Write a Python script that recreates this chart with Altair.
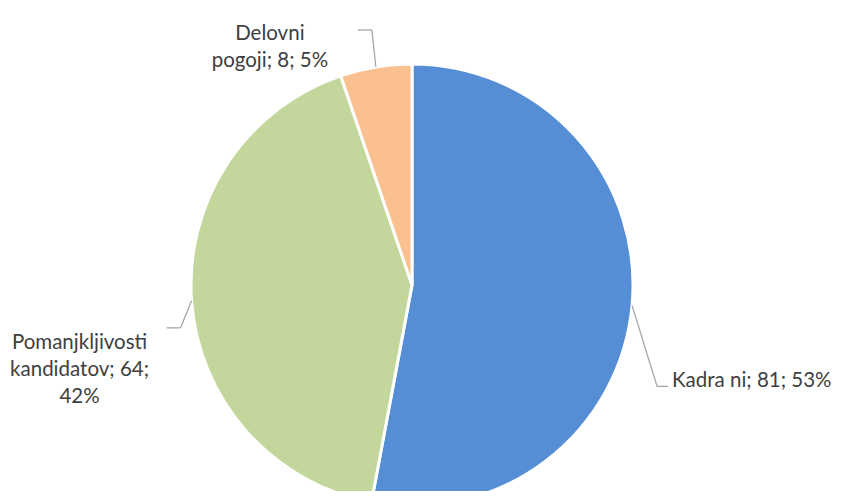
import math
import altair as alt
import pandas as pd

# ---- data ----
categories = ["Kadra ni", "Pomanjkljivosti kandidatov", "Delovni pogoji"]
values = [81, 64, 8]
colors = ["#558ED5", "#C3D69B", "#FAC090"]
label_lines = [
    ["Kadra ni; 81; 53%"],
    ["Pomanjkljivosti", "kandidatov; 64;", "42%"],
    ["Delovni", "pogoji; 8; 5%"],
]

# ---- layout / style (not data) ----
CX, CY, R = 404, 277, 221
elbow_off = [(25, 81), (-11, 27), (-4, -37)]
end_off = [(36, 81), (-25, 27), (-18, -37)]
text_off = [(4, -5), (-87, 15), (-88, 4)]
text_align = ["left", "center", "center"]
FONT = "Lato"
FS = 20.5

total = sum(values)
df = pd.DataFrame({
    "cat": categories,
    "val": values,
    "ord": list(range(len(categories))),
})

# leader lines and label anchors computed from the data angles
segs, texts = [], []
cum = 0
for i, v in enumerate(values):
    mid = (cum + v / 2) / total * 2 * math.pi
    cum += v
    ax = CX + R * math.sin(mid)
    ay = CY - R * math.cos(mid)
    ex, ey = ax + elbow_off[i][0], ay + elbow_off[i][1]
    fx, fy = ax + end_off[i][0], ay + end_off[i][1]
    segs.append({"x": ax, "y": ay, "x2": ex, "y2": ey})
    segs.append({"x": ex, "y": ey, "x2": fx, "y2": fy})
    texts.append({"x": fx + text_off[i][0], "y": fy + text_off[i][1],
                  "t": "\n".join(label_lines[i]), "align": text_align[i]})
seg_df = pd.DataFrame(segs)
txt_df = pd.DataFrame(texts)

pie = alt.Chart(df).mark_arc(outerRadius=R, stroke="white", strokeWidth=3).encode(
    theta=alt.Theta("val:Q", stack=True),
    order=alt.Order("ord:Q"),
    color=alt.Color("cat:N", scale=alt.Scale(domain=categories, range=colors), legend=None),
    x=alt.value(CX),
    y=alt.value(CY),
)

leaders = alt.Chart(seg_df).mark_rule(color="#A6A6A6", strokeWidth=1.3).encode(
    x=alt.X("x:Q", scale=None), y=alt.Y("y:Q", scale=None),
    x2="x2:Q", y2="y2:Q",
)

layers = [pie, leaders]
for al in ["left", "center"]:
    sub = txt_df[txt_df["align"] == al]
    layers.append(
        alt.Chart(sub).mark_text(
            align=al, baseline="middle", font=FONT, fontSize=FS,
            color="#404040", lineBreak="\n", lineHeight=27,
        ).encode(x=alt.X("x:Q", scale=None), y=alt.Y("y:Q", scale=None), text="t:N")
    )

chart = alt.layer(*layers).properties(
    width=829, height=483, autosize="none", padding=0
).configure_view(stroke=None)

chart.save("out.html", embed_options={"renderer": "svg", "actions": False})
